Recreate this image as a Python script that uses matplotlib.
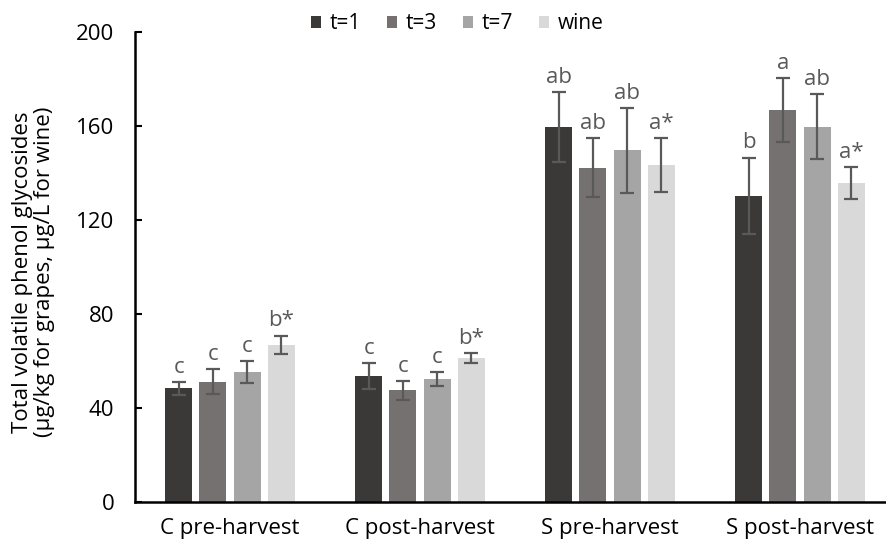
import matplotlib
matplotlib.use("Agg")
import matplotlib.pyplot as plt
import numpy as np

plt.rcParams['font.family'] = ['Open Sans', 'DejaVu Sans']

categories = ["C pre-harvest", "C post-harvest", "S pre-harvest", "S post-harvest"]
series = ["t=1", "t=3", "t=7", "wine"]
t1 = [48.5, 53.7, 159.6, 130.3]
t3 = [51.3, 47.6, 142.3, 166.7]
t7 = [55.5, 52.4, 149.6, 159.6]
wine = [66.9, 61.5, 143.4, 135.8]
t1_err = [2.8, 5.6, 14.9, 16.2]
t3_err = [5.2, 4.0, 12.6, 13.5]
t7_err = [4.7, 3.1, 18.0, 13.8]
wine_err = [4.0, 2.1, 11.4, 6.8]
t1_lab = ["c", "c", "ab", "b"]
t3_lab = ["c", "c", "ab", "a"]
t7_lab = ["c", "c", "ab", "ab"]
wine_lab = ["b*", "b*", "a*", "a*"]
yticks = [0, 40, 80, 120, 160, 200]

values = [t1, t3, t7, wine]
errors = [t1_err, t3_err, t7_err, wine_err]
labels = [t1_lab, t3_lab, t7_lab, wine_lab]
colors = ["#3b3838", "#767171", "#a5a5a5", "#d9d9d9"]

fig = plt.figure(figsize=(8.86, 5.49), dpi=100)
ax = fig.add_axes([0.1524, 0.0847, 0.8578, 0.8576])

x = np.arange(len(categories))
pitch = 0.18
width = 0.142
for i, (vals, errs, labs, col, name) in enumerate(zip(values, errors, labels, colors, series)):
    pos = x + (i - 1.5) * pitch
    ax.bar(pos, vals, width, color=col, label=name, zorder=2)
    ax.errorbar(pos, vals, yerr=errs, fmt='none', ecolor="#595959",
                elinewidth=1.6, capsize=5, capthick=1.6, zorder=3)
    for p, v, e, l in zip(pos, vals, errs, labs):
        ax.annotate(l, (p, v + e), xytext=(0, 3), textcoords='offset points',
                    ha='center', va='bottom', fontsize=16, color="#595959")

ax.set_xlim(-0.5, 3.5)
ax.set_ylim(0, 200)
ax.set_yticks(yticks)
ax.set_xticks(x)
ax.set_xticklabels(categories, fontsize=16, color="#000000")
ax.tick_params(axis='x', length=0, pad=11)
ax.tick_params(axis='y', direction='in', length=5, width=1.5, labelsize=16, pad=15)
for s in ['top', 'right']:
    ax.spines[s].set_visible(False)
for s in ['left', 'bottom']:
    ax.spines[s].set_linewidth(1.8)
    ax.spines[s].set_color('black')

ax.set_ylabel("Total volatile phenol glycosides\n(\u00b5g/kg for grapes, \u00b5g/L for wine)",
              fontsize=16, linespacing=1.05)
ax.yaxis.set_label_coords(-0.105, 0.49)

leg = fig.legend(loc='upper center', bbox_to_anchor=(0.516, 1.01), ncol=4, frameon=False,
                 fontsize=15, handlelength=0.5, handleheight=0.5, handletextpad=0.4,
                 columnspacing=1.25)

fig.savefig("out.png", dpi=100)
